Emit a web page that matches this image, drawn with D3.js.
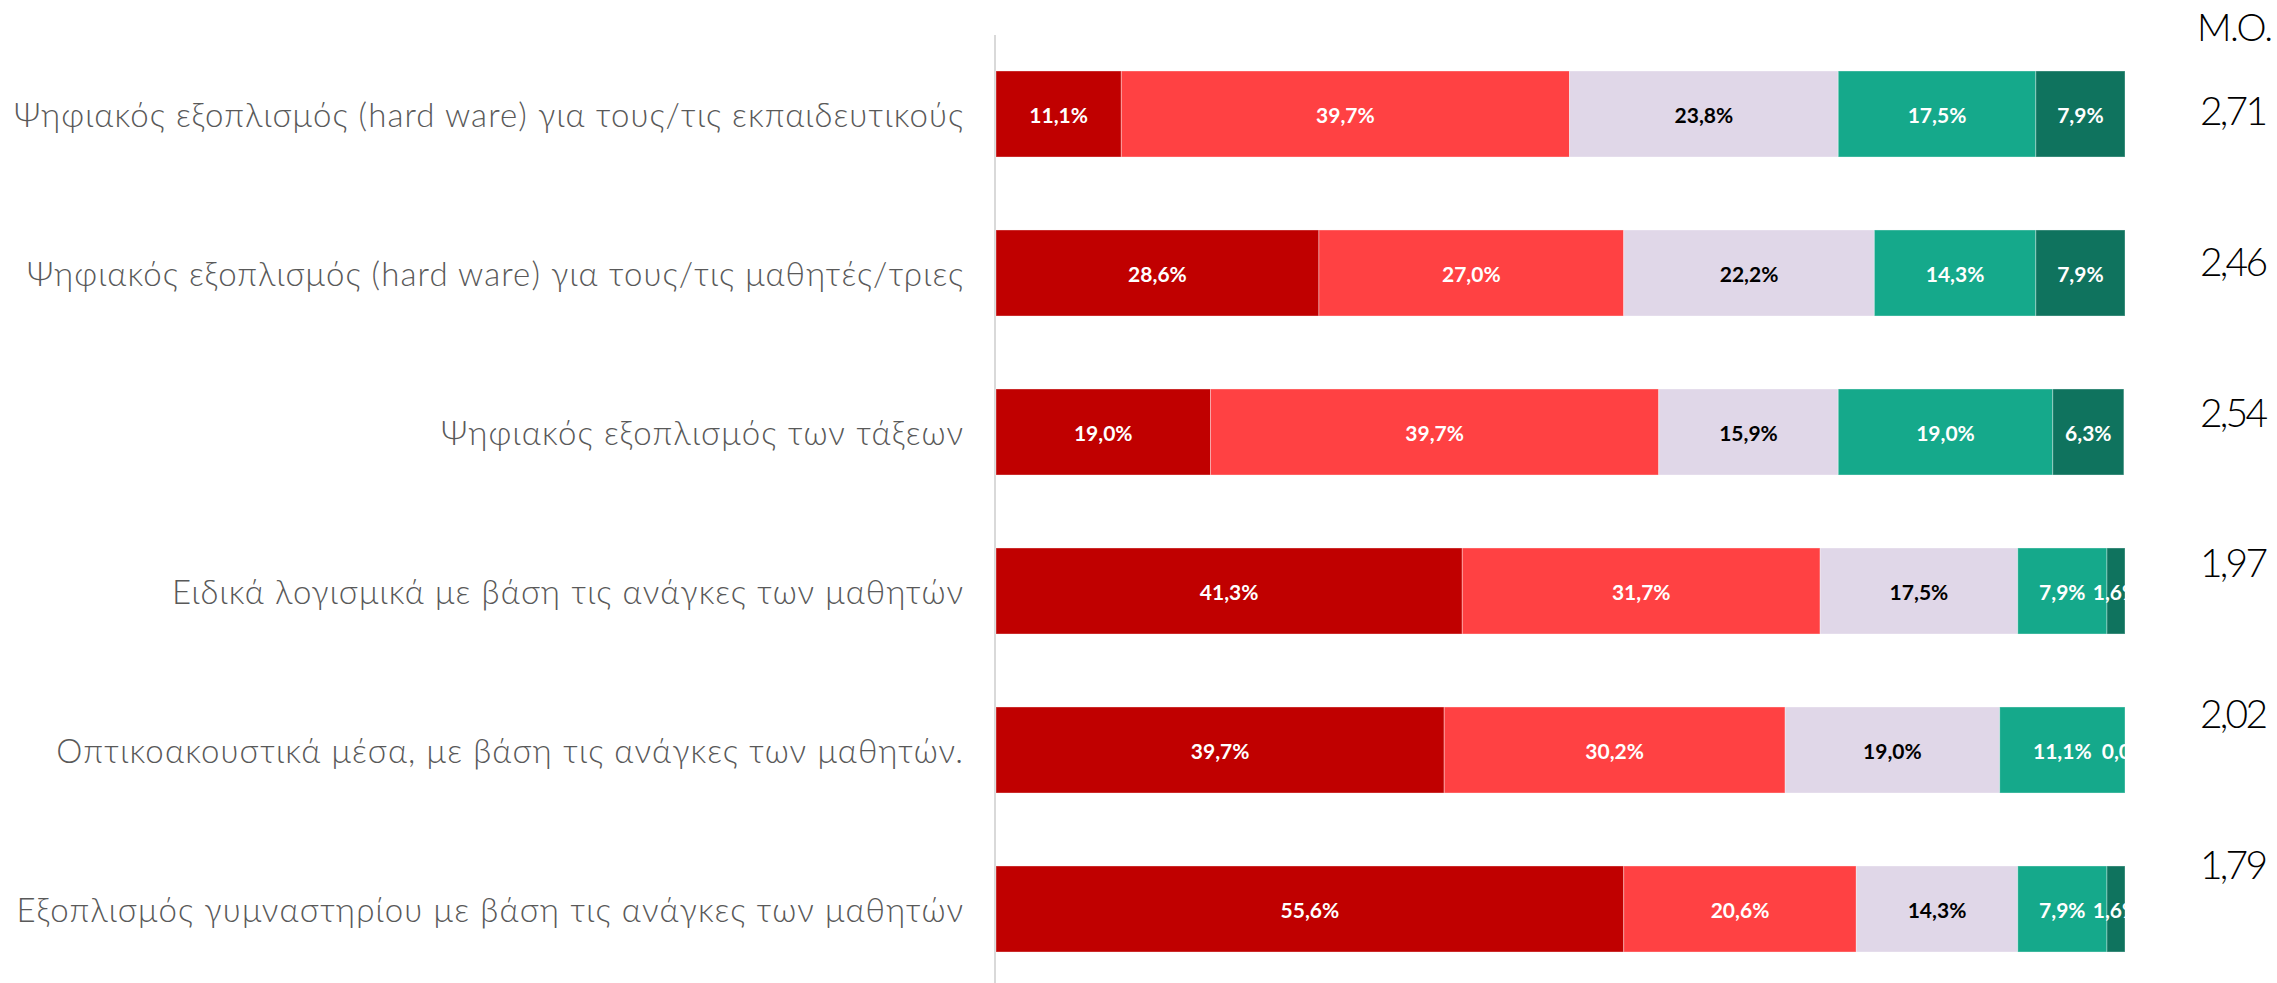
<!DOCTYPE html>
<html>
<head>
<meta charset="utf-8">
<script src="https://cdn.jsdelivr.net/npm/d3@7"></script>
<style>
  html, body { margin: 0; padding: 0; background: #fff; }
  svg { display: block; }
</style>
</head>
<body>
<script>
// ---- data ----
const categories = [
  "Ψηφιακός εξοπλισμός (hard ware) για τους/τις εκπαιδευτικούς",
  "Ψηφιακός εξοπλισμός (hard ware) για τους/τις μαθητές/τριες",
  "Ψηφιακός εξοπλισμός των τάξεων",
  "Ειδικά λογισμικά με βάση τις ανάγκες των μαθητών",
  "Οπτικοακουστικά μέσα, με βάση τις ανάγκες των μαθητών.",
  "Εξοπλισμός γυμναστηρίου με βάση τις ανάγκες των μαθητών"
];
const seriesKeys = ["s1", "s2", "s3", "s4", "s5"];
const s1 = [11.1, 28.6, 19.0, 41.3, 39.7, 55.6];
const s2 = [39.7, 27.0, 39.7, 31.7, 30.2, 20.6];
const s3 = [23.8, 22.2, 15.9, 17.5, 19.0, 14.3];
const s4 = [17.5, 14.3, 19.0, 7.9, 11.1, 7.9];
const s5 = [7.9, 7.9, 6.3, 1.6, 0.0, 1.6];
const means = ["2,71", "2,46", "2,54", "1,97", "2,02", "1,79"];
const meanHeader = "M.O.";

// ---- styles ----
const colors = ["#C00000", "#FF4143", "#E0D7E8", "#15A98B", "#0F735E"];
const labelColors = ["#fff", "#fff", "#000", "#fff", "#fff"];
const FONT = "Lato, 'DejaVu Sans', sans-serif";

const W = 2277, H = 983;
const table = categories.map((c, i) => ({cat: c, s1: s1[i], s2: s2[i], s3: s3[i], s4: s4[i], s5: s5[i]}));
const stacked = d3.stack().keys(seriesKeys)(table);

const svg = d3.select("body").append("svg").attr("width", W).attr("height", H);

const x = d3.scaleLinear().domain([0, 100]).range([996, 2125]);
const y = d3.scaleBand().domain(categories).range([34.5, 34.5 + 159 * 6])
  .paddingInner(0.459).paddingOuter(0.2295);
const yMean = d3.scalePoint().domain(categories).range([110, 864]);

svg.append("defs").append("clipPath").attr("id", "plotclip")
  .append("rect").attr("x", x(0)).attr("y", 0).attr("width", x(100) - x(0)).attr("height", H);

// axis line
svg.append("line").attr("x1", 995).attr("x2", 995).attr("y1", 35).attr("y2", H)
  .attr("stroke", "#D9D9D9").attr("stroke-width", 2);

// bars
const g = svg.append("g");
stacked.forEach((layer, li) => {
  g.append("g").selectAll("rect").data(layer).join("rect")
    .attr("x", d => x(d[0]))
    .attr("y", d => y(d.data.cat))
    .attr("width", d => x(d[1]) - x(d[0]))
    .attr("height", y.bandwidth())
    .attr("fill", colors[li])
    .attr("stroke", "rgba(255,255,255,0.35)")
    .attr("stroke-width", 1);
});

// value labels
const lg = svg.append("g").attr("clip-path", "url(#plotclip)");
stacked.forEach((layer, li) => {
  lg.append("g").selectAll("text").data(layer).join("text")
    .attr("x", d => (x(d[0]) + x(d[1])) / 2)
    .attr("y", d => y(d.data.cat) + y.bandwidth() / 2)
    .attr("text-anchor", "middle")
    .attr("dominant-baseline", "central")
    .attr("font-family", FONT)
    .attr("font-weight", 700)
    .attr("font-size", 21)
    .attr("fill", labelColors[li])
    .text(d => (d[1] - d[0]).toFixed(1).replace(".", ",") + "%");
});

// category labels (widened to the reference's wide geometric face)
const catLabels = svg.append("g").selectAll("text").data(categories).join("text")
  .attr("x", 963)
  .attr("y", d => y(d) + y.bandwidth() / 2)
  .attr("text-anchor", "end")
  .attr("dominant-baseline", "central")
  .attr("font-family", FONT)
  .attr("font-weight", 300)
  .attr("font-size", 33)
  .attr("fill", "#595959")
  .text(d => d);
const natural = catLabels.nodes().map(n => n.getComputedTextLength());
const widen = 949 / natural[0];
catLabels.attr("textLength", (d, i) => natural[i] * widen).attr("lengthAdjust", "spacing");

// means column
svg.append("text").attr("x", 2235).attr("y", 41)
  .attr("text-anchor", "middle")
  .attr("font-family", FONT)
  .attr("font-weight", 300)
  .attr("font-size", 38)
  .attr("fill", "#000")
  .attr("textLength", 76).attr("lengthAdjust", "spacing")
  .text(meanHeader);

svg.append("g").selectAll("text").data(categories).join("text")
  .attr("x", 2234)
  .attr("y", d => yMean(d))
  .attr("text-anchor", "middle")
  .attr("dominant-baseline", "central")
  .attr("font-family", FONT)
  .attr("font-weight", 300)
  .attr("font-size", 39)
  .attr("fill", "#000")
  .attr("textLength", 68).attr("lengthAdjust", "spacing")
  .text((d, i) => means[i]);
</script>
</body>
</html>
